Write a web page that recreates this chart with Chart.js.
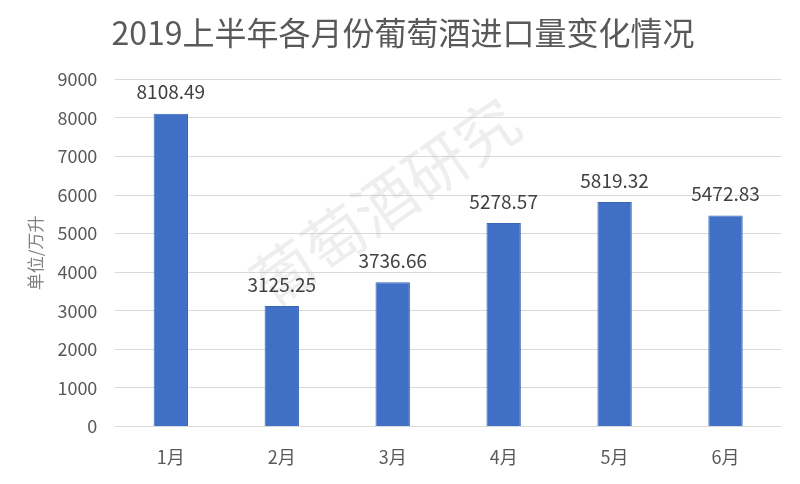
<!DOCTYPE html>
<html>
<head>
<meta charset="utf-8">
<script src="https://cdn.jsdelivr.net/npm/chart.js@4"></script>
<style>
  html, body { margin: 0; padding: 0; background: #fff; }
  #wrap { width: 800px; height: 484px; }
</style>
</head>
<body>
<div id="wrap"><canvas id="myChart" width="800" height="484"></canvas></div>
<script>
const months = ['1月', '2月', '3月', '4月', '5月', '6月'];
const imports = [8108.49, 3125.25, 3736.66, 5278.57, 5819.32, 5472.83];
const yMax = 9000;
const yStep = 1000;

const FONT = "'Noto Sans CJK SC', 'Noto Sans', sans-serif";

// value labels above each bar
const valueLabels = {
    id: 'valueLabels',
    afterDatasetsDraw(chart) {
        const ctx = chart.ctx;
        const meta = chart.getDatasetMeta(0);
        ctx.save();
        ctx.font = '19px ' + FONT;
        ctx.fillStyle = '#404040';
        ctx.textAlign = 'center';
        ctx.textBaseline = 'bottom';
        meta.data.forEach((bar, i) => {
            ctx.fillText(imports[i].toFixed(2), bar.x, bar.y - 12);
        });
        ctx.restore();
    }
};

// faint watermark behind the bars
const watermark = {
    id: 'watermark',
    beforeDatasetsDraw(chart) {
        const ctx = chart.ctx;
        ctx.save();
        ctx.translate(385, 202);
        ctx.rotate(-35 * Math.PI / 180);
        ctx.font = '62px ' + FONT;
        ctx.fillStyle = 'rgba(195,195,195,0.28)';
        ctx.textAlign = 'center';
        ctx.textBaseline = 'middle';
        ctx.fillText('葡萄酒研究', 0, 0);
        ctx.restore();
    }
};

const ctx = document.getElementById('myChart').getContext('2d');
const myChart = new Chart(ctx, {
    type: 'bar',
    data: {
        labels: months,
        datasets: [{
            data: imports,
            backgroundColor: '#4070C6',
            borderColor: '#3A66B8',
            borderWidth: 1,
            categoryPercentage: 1,
            barPercentage: 0.31
        }]
    },
    options: {
        responsive: false,
        animation: false,
        layout: { padding: { left: 25, right: 19, top: 0, bottom: 4 } },
        plugins: {
            legend: { display: false },
            tooltip: { enabled: false },
            title: {
                display: true,
                text: '2019上半年各月份葡萄酒进口量变化情况',
                color: '#595959',
                font: { family: FONT, size: 32, weight: 'normal' },
                padding: { top: 14, bottom: 27 }
            }
        },
        scales: {
            y: {
                min: 0,
                max: yMax,
                ticks: {
                    stepSize: yStep,
                    color: '#595959',
                    font: { family: FONT, size: 18 },
                    padding: 18,
                    callback: v => String(v)
                },
                grid: { color: '#d9d9d9', drawTicks: false },
                border: { display: false },
                title: {
                    display: true,
                    text: '单位/万升',
                    color: '#7f7f7f',
                    font: { family: FONT, size: 17 },
                    padding: { top: 0, bottom: -6 }
                }
            },
            x: {
                ticks: {
                    color: '#595959',
                    font: { family: FONT, size: 18 },
                    padding: 12
                },
                grid: { display: false },
                border: { display: false }
            }
        }
    },
    plugins: [watermark, valueLabels]
});
</script>
</body>
</html>
